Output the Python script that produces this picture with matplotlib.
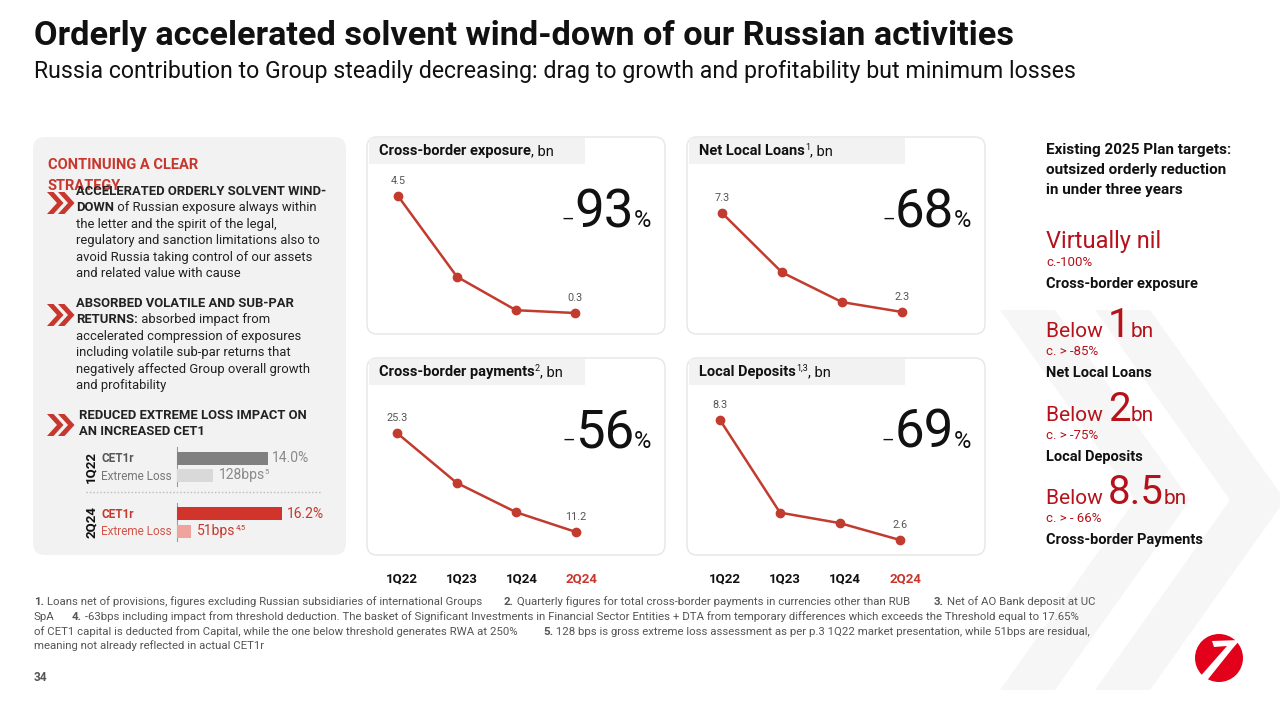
import matplotlib
matplotlib.use("Agg")
import matplotlib.pyplot as plt
import matplotlib.transforms as mtransforms
from matplotlib.patches import FancyBboxPatch, Rectangle, Polygon, Circle

W, H = 1280, 701
RED = "#c8372d"
LINE_RED = "#c23b2f"
DARK_RED = "#b5121b"
GREY_TXT = "#555555"

plt.rcParams["font.family"] = ["Roboto", "DejaVu Sans"]

# data
quarters = ["1Q22", "1Q23", "1Q24", "2Q24"]
cross_border_exposure = [4.5, 1.6, 0.4, 0.3]
net_local_loans = [7.3, 4.3, 2.8, 2.3]
cross_border_payments = [25.3, 18.2, 14.0, 11.2]
local_deposits = [8.3, 3.9, 3.4, 2.6]
reductions = ["93", "68", "56", "69"]
chart_titles = ["Cross-border exposure", "Net Local Loans", "Cross-border payments", "Local Deposits"]
chart_notes = ["", "1", "2", "1,3"]

cet1_periods = ["1Q22", "2Q24"]
cet1_ratio = [14.0, 16.2]
extreme_loss_bps = [128, 51]
extreme_loss_notes = ["5", "4,5"]

target_head = ["Virtually nil", "Below ", "Below ", "Below "]
target_value = ["", "1", "2", "8.5"]
target_pct = ["c.-100%", "c. > -85%", "c. > -75%", "c. > - 66%"]
target_name = ["Cross-border exposure", "Net Local Loans", "Local Deposits", "Cross-border Payments"]

fig = plt.figure(figsize=(12.8, 7.01), dpi=100)
bg = fig.add_axes([0, 0, 1, 1])
bg.set_xlim(0, W)
bg.set_ylim(H, 0)
bg.axis("off")

B = {"fontweight": "bold"}


def line(x, y, parts, size=9, color="#222222"):
    t = None
    for p in parts:
        st = dict(fontsize=size, color=color)
        if len(p) > 1:
            st.update(p[1])
        rise = st.pop("rise", 0)
        if t is None:
            t = bg.text(x, y - rise, p[0], va="baseline", ha="left", **st)
        else:
            t = bg.annotate(p[0], xy=(1, y - rise), xycoords=(t, "data"),
                            va="baseline", ha="left", **st)
    return t


def chevrons(cx, cy, color=RED):
    h, w, t = 11, 10, 6.5
    for dx in (0, 11):
        x = cx - 13 + dx
        bg.add_patch(Polygon([(x, cy - h), (x + t, cy - h), (x + t + w, cy), (x + t, cy + h),
                              (x, cy + h), (x + w, cy)], closed=True, color=color, lw=0))


# background chevrons on the right
for x0 in (1000, 1095):
    d, w = 135, 55
    bg.add_patch(Polygon([(x0, 310), (x0 + w, 310), (x0 + w + d, 500), (x0 + w, 690),
                          (x0, 690), (x0 + d, 500)], closed=True, color="#f6f6f6", lw=0, zorder=0))

# title
bg.text(34, 45, "Orderly accelerated solvent wind-down of our Russian activities",
        fontsize=24.7, fontweight="bold", color="#111111", va="baseline")
bg.text(34, 78, "Russia contribution to Group steadily decreasing: drag to growth and profitability but minimum losses",
        fontsize=16.7, color="#111111", va="baseline")

# left panel
bg.add_patch(FancyBboxPatch((33, 137), 313, 418, boxstyle="round,pad=0,rounding_size=12",
                            fc="#f2f2f2", ec="none"))
bg.text(48, 169, "CONTINUING A CLEAR", fontsize=10.5, fontweight="bold", color=RED, va="baseline")
bg.text(48, 190, "STRATEGY", fontsize=10.5, fontweight="bold", color=RED, va="baseline")

bullets = [
    (76, 195, [[("ACCELERATED ORDERLY SOLVENT WIND-", B)],
               [("DOWN", B), (" of Russian exposure always within",)],
               [("the letter and the spirit of the legal,",)],
               [("regulatory and sanction limitations also to",)],
               [("avoid Russia taking control of our assets",)],
               [("and related value with cause",)]]),
    (76, 307, [[("ABSORBED VOLATILE AND SUB-PAR", B)],
               [("RETURNS:", B), (" absorbed impact from",)],
               [("accelerated compression of exposures",)],
               [("including volatile sub-par returns that",)],
               [("negatively affected Group overall growth",)],
               [("and profitability",)]]),
    (79, 419, [[("REDUCED EXTREME LOSS IMPACT ON", B)],
               [("AN INCREASED CET1", B)]]),
]
for (bx, by, lines), cy in zip(bullets, (203, 315, 425)):
    chevrons(60, cy)
    for i, parts in enumerate(lines):
        line(bx, by + i * 16.4, parts, size=9.4)

# CET1 mini bars
bar_rows = [(458, 475.5), (513.5, 531)]
ax_c = fig.add_axes([177 / W, 1 - 541 / H, 143 / W, 94 / H])
ax_e = fig.add_axes([177 / W, 1 - 541 / H, 143 / W, 94 / H])
for a in (ax_c, ax_e):
    a.set_ylim(541, 447)
    a.axis("off")
ax_c.set_xlim(0, 22.0)
ax_e.set_xlim(0, 508)
cet_cols = [("#808080", "#d9d9d9", "#8a8a8a"), ("#d0342a", "#f0a39c", RED)]
for i, per in enumerate(cet1_periods):
    yc, ye = bar_rows[i]
    cbar, ebar, tcol = cet_cols[i]
    ax_c.barh(yc, cet1_ratio[i], height=13, color=cbar)
    ax_e.barh(ye, extreme_loss_bps[i], height=13, color=ebar)
    ax_c.annotate(f"{cet1_ratio[i]:.1f}%", (cet1_ratio[i], yc), xytext=(3, 0), textcoords="offset points",
                  va="center", fontsize=10, color=tcol)
    t = ax_e.annotate(f"{extreme_loss_bps[i]}bps", (extreme_loss_bps[i], ye), xytext=(4, 0),
                      textcoords="offset points", va="center", fontsize=10, color=tcol)
    ax_e.annotate(extreme_loss_notes[i], xy=(1, 0.75), xycoords=t, va="center", fontsize=5.5, color=tcol)
    lab_col = "#555555" if i == 0 else RED
    sub_col = "#777777" if i == 0 else "#d2554c"
    bg.text(101, yc + 4, "CET1r", fontsize=8.5, fontweight="bold", color=lab_col, va="baseline")
    bg.text(101, ye + 4, "Extreme Loss", fontsize=8.5, color=sub_col, va="baseline")
    bg.text(91, (yc + ye) / 2, per, fontsize=9.5, fontweight="bold", rotation=90,
            ha="center", va="center", color="#111111")
    bg.plot([177, 177], [yc - 11, ye + 10], color="#9a9a9a", lw=0.8)
bg.plot([86, 322], [492, 492], color="#bbbbbb", lw=1, ls=(0, (1, 1.5)))

# chart cards
cards = [(367, 137), (687, 137), (367, 358), (687, 358)]
series = [cross_border_exposure, net_local_loans, cross_border_payments, local_deposits]
frames = [(398, 196, 575, 313), (722, 213, 902, 312), (397, 433, 576, 532), (720, 420, 900, 540)]
for k, ((cx, cy), vals, fr) in enumerate(zip(cards, series, frames)):
    bg.add_patch(FancyBboxPatch((cx, cy), 298, 197, boxstyle="round,pad=0,rounding_size=10",
                                fc="white", ec="#e6e6e6", lw=1))
    bg.add_patch(Rectangle((cx + 2, cy + 1), 216, 26, fc="#f2f2f2", ec="none"))
    parts = [(chart_titles[k], B)]
    if chart_notes[k]:
        parts.append((chart_notes[k], {"fontsize": 6.5, "rise": 5}))
    parts.append((", bn",))
    line(cx + 12, cy + 18, parts, size=10.5, color="#111111")

    # big reduction figure
    by = cy + 90
    t = bg.text(cx + 267, by, reductions[k], fontsize=38, fontweight="normal",
                ha="right", va="baseline", color="#111111")
    bg.annotate("%", xy=(1, by), xycoords=(t, "data"), fontsize=17, va="baseline", color="#111111")
    bg.annotate("\u2013", xy=(0, by - 2), xycoords=(t, "data"), fontsize=14, ha="right",
                va="baseline", color="#111111")

    x0, y0, x1, y1 = fr
    ax = fig.add_axes([x0 / W, 1 - y1 / H, (x1 - x0) / W, (y1 - y0) / H])
    ax.plot(range(len(vals)), vals, color=LINE_RED, lw=1.8, marker="o", ms=6, clip_on=False)
    ax.set_xlim(0, len(vals) - 1)
    ax.set_ylim(min(vals), max(vals))
    ax.axis("off")
    for i in (0, len(vals) - 1):
        ax.annotate(f"{vals[i]}", (i, vals[i]), xytext=(0, 7), textcoords="offset points",
                    ha="center", va="bottom", fontsize=7.8, color=GREY_TXT)
    if k >= 2:
        tr = mtransforms.blended_transform_factory(ax.transData, bg.transData)
        tr = tr + mtransforms.ScaledTranslation(5 / 100, 0, fig.dpi_scale_trans)
        for i, q in enumerate(quarters):
            bg.text(i, 582, q, transform=tr, ha="center", va="baseline", fontsize=9.5,
                    fontweight="bold", color=RED if i == len(quarters) - 1 else "#111111")

# right column: plan targets
for i, s in enumerate(["Existing 2025 Plan targets:", "outsized orderly reduction", "in under three years"]):
    bg.text(1046, 154 + i * 20, s, fontsize=11, fontweight="bold", color="#111111", va="baseline")
tgt_base = [248, 337, 421, 504]
for i in range(4):
    y = tgt_base[i]
    if target_value[i]:
        line(1046, y, [(target_head[i],), (target_value[i], {"fontsize": 29}), ("bn",)], size=15, color=DARK_RED)
    else:
        line(1046, y, [(target_head[i],)], size=17, color=DARK_RED)
    bg.text(1046, y + 18, target_pct[i], fontsize=9.5, color=DARK_RED, va="baseline")
    bg.text(1046, y + 40, target_name[i], fontsize=10.5, fontweight="bold", color="#111111", va="baseline")

# footnotes
fs = 8.2
fy = [605, 620, 635, 649]
line(34, fy[0], [("1.", B), (" Loans net of provisions, figures excluding Russian subsidiaries of international Groups",)], size=fs, color=GREY_TXT)
line(504, fy[0], [("2.", B), (" Quarterly figures for total cross-border payments in currencies other than RUB",)], size=fs, color=GREY_TXT)
line(934, fy[0], [("3.", B), (" Net of AO Bank deposit at UC",)], size=fs, color=GREY_TXT)
line(34, fy[1], [("SpA",)], size=fs, color=GREY_TXT)
line(72, fy[1], [("4.", B), (" -63bps including impact from threshold deduction. The basket of Significant Investments in Financial Sector Entities + DTA from temporary differences which exceeds the Threshold equal to 17.65%",)], size=fs, color=GREY_TXT)
line(34, fy[2], [("of CET1 capital is deducted from Capital, while the one below threshold generates RWA at 250%",)], size=fs, color=GREY_TXT)
line(543, fy[2], [("5.", B), (" 128 bps is gross extreme loss assessment as per p.3 1Q22 market presentation, while 51bps are residual,",)], size=fs, color=GREY_TXT)
line(34, fy[3], [("meaning not already reflected in actual CET1r",)], size=fs, color=GREY_TXT)
bg.text(34, 681, "34", fontsize=8.5, fontweight="bold", color=GREY_TXT, va="baseline")

# logo
bg.add_patch(Circle((1219, 658), 24, color="#e2001a", lw=0))
bg.add_patch(Polygon([(1198, 679), (1205, 683), (1233, 648), (1240, 640), (1212, 641),
                      (1214, 647), (1227, 646)], closed=True, color="white", lw=0))

fig.savefig("out.png", dpi=100)
